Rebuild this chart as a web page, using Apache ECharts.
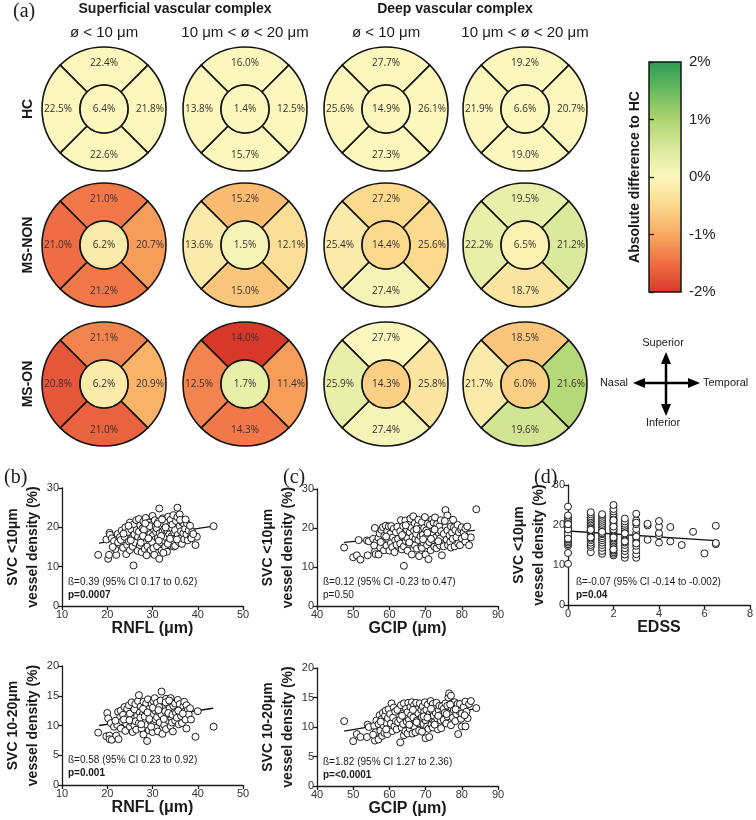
<!DOCTYPE html>
<html>
<head>
<meta charset="utf-8">
<title>Vessel density</title>
<script src="https://cdn.jsdelivr.net/npm/echarts@6/dist/echarts.min.js"></script>
<style>
    html, body { margin: 0; padding: 0; background: #fff; }
    #chart { width: 756px; height: 820px; }
</style>
</head>
<body>
<div id="chart"></div>
<script>
// (a) sector values, order: superior, temporal, inferior, nasal, central
var groups = ['HC', 'MS-NON', 'MS-ON'];
var complexes = ['Superficial vascular complex', 'Deep vascular complex'];
var sizeLabels = ['ø < 10 μm', '10 μm < ø < 20 μm', 'ø < 10 μm', '10 μm < ø < 20 μm'];
var svc10 = [[22.4, 21.8, 22.6, 22.5, 6.4], [21.0, 20.7, 21.2, 21.0, 6.2], [21.1, 20.9, 21.0, 20.8, 6.2]];
var svc1020 = [[16.0, 12.5, 15.7, 13.8, 1.4], [15.2, 12.1, 15.0, 13.6, 1.5], [14.0, 11.4, 14.3, 12.5, 1.7]];
var dvc10 = [[27.7, 26.1, 27.3, 25.6, 14.9], [27.2, 25.6, 27.4, 25.4, 14.4], [27.7, 25.8, 27.4, 25.9, 14.3]];
var dvc1020 = [[19.2, 20.7, 19.0, 21.9, 6.6], [19.5, 21.2, 18.7, 22.2, 6.5], [18.5, 21.6, 19.6, 21.7, 6.0]];
var scaleTicks = [-2, -1, 0, 1, 2];
var scaleColors = ['#d7382a', '#f06c44', '#f9a95f', '#fbd98d', '#fbf7bd', '#dbe99c', '#acd46f', '#68ba5f', '#2b9c53'];

// (b)-(d) scatter data
var rnflSvc10 = [
    [18, 13], [19.8, 16.9], [20.2, 12], [20.5, 18.6], [20.6, 18.1], [20.4, 13], [21, 17.2], [21.5, 16.5], [22, 13], [22.3, 18.3], [21.8, 14.5], [22.5, 15.8], [21.2, 15], [22.8, 17.5], [22.4, 16.2],
    [23, 16.8], [23.2, 19.2], [23.5, 14.8], [23.8, 17.6], [24, 20], [24.2, 13.2], [24.4, 15.5], [24.5, 18.8], [24.8, 16.4], [25, 21.2], [25, 14.2], [25.3, 19.5], [25.5, 17.3], [25.6, 15.1], [25.8, 10.3], [25.9, 20.8], [26, 18.2], [26.2, 16.1], [26.4, 21.8], [26.5, 19.3], [26.7, 14], [26.8, 17.6], [23.6, 18.4], [24.7, 20.4], [25.2, 16.7],
    [27, 22.1], [27, 18.9], [27.2, 15.5], [27.3, 20.5], [27.5, 17], [27.6, 13.7], [27.8, 19.7], [28, 21.5], [28, 16.3], [28.2, 18.2], [28.3, 14.5], [28.5, 22.4], [28.6, 20], [28.8, 17.5], [28.9, 15.2], [29, 19], [29, 13.3], [29.2, 21.2], [29.3, 16.7], [29.5, 18.3], [29.6, 14.2], [29.8, 20.6], [30, 17.8], [30, 22.9], [30.1, 15.8], [30.3, 19.5], [30.4, 13], [30.5, 21.8], [30.6, 16.9], [30.8, 18.8], [27.4, 16.1], [28.1, 19.4], [28.7, 12.9], [29.4, 20.3], [29.9, 16.2], [30.2, 14.7], [27.9, 17.8], [28.4, 21], [29.1, 17.2], [30.7, 20.1],
    [31, 19.7], [31, 15.2], [31.2, 17.3], [31.3, 21.4], [31.5, 24.8], [31.5, 12], [31.6, 18.5], [31.8, 16.2], [32, 20.5], [32, 14.1], [32.2, 18.9], [32.3, 22.3], [32.5, 16.8], [32.6, 19.6], [32.8, 15], [33, 21.2], [33, 17.5], [33.2, 13.8], [33.3, 19.1], [33.5, 22.7], [33.5, 16.3], [33.7, 18.2], [33.8, 20.4], [34, 15.4], [34, 21.9], [34.2, 17.7], [34.3, 19.8], [34.5, 16.7], [34.6, 23.1], [34.8, 18.6], [31.1, 20.9], [31.9, 17.8], [32.4, 13.5], [32.9, 20], [33.4, 15.8], [33.9, 17.1], [34.4, 20.7], [34.7, 15.1], [31.4, 16.6], [32.1, 22],
    [35, 19.3], [35, 15.3], [35.2, 21.6], [35.3, 17.4], [35.5, 25], [35.5, 22.6], [35.6, 18.1], [35.8, 16.3], [36, 20.3], [36, 23.3], [36.2, 17.2], [36.3, 19], [36.5, 15.8], [36.6, 21.2], [36.8, 18.5], [37, 17], [37, 20.8], [37.2, 19.6], [37.5, 18.2], [37.6, 21], [37.8, 16.7], [38, 19.2], [36.1, 21.9], [35.4, 16.9], [37.3, 22],
    [38.5, 17.6], [38.8, 18.8], [39.5, 15.5], [39.8, 17.6], [38.3, 20.4], [43.5, 20.3], [38.6, 17.2], [39, 18.3]
];
var gcipSvc10 = [
    [47.5, 15], [50, 12.5], [51, 13], [51.5, 16.9], [52, 11.9], [53.8, 16.8], [54, 13], [54.3, 16.6], [55.5, 17.2], [56, 20], [56, 14], [56.2, 13.3], [56.4, 16.4], [55.8, 15.5],
    [57, 13.2], [57, 17.5], [57.3, 18.6], [57.5, 15], [57.8, 19.5], [58, 16.5], [58.2, 20.2], [58.5, 14.3], [58.6, 18], [58.8, 16.6], [59, 20.6], [59.2, 15.5], [59.4, 19.2], [59.6, 17.2], [59.8, 20.4], [60, 14.2], [60.2, 18.5], [60.4, 16.1], [60.5, 20.5], [60.8, 15.1], [61, 17.6], [61.2, 19.8], [61.4, 13.8], [61.6, 16.8], [61.8, 18.9], [62, 15.7], [62.2, 20.3], [62.4, 17.2], [57.6, 16.4], [59.1, 17.8],
    [63, 16], [63, 19.2], [63.2, 22], [63.4, 14.5], [63.6, 17.8], [63.8, 20.5], [64, 10.3], [64, 15.3], [64.2, 18.6], [64.4, 21.9], [64.6, 16.6], [64.8, 19.6], [65, 14.2], [65, 17.4], [65.2, 20.9], [65.4, 15.9], [65.6, 18.9], [65.8, 22.4], [66, 16.4], [66, 20.1], [66.2, 13.2], [66.4, 17.7], [66.6, 23], [66.8, 19.3], [67, 15.6], [67, 21.2], [67.2, 17.2], [67.4, 18.5], [67.6, 14.7], [67.8, 20.6], [68, 16.9], [68, 22.1], [68.2, 12.8], [68.4, 19.8], [68.6, 17.9], [68.8, 15.2], [63.5, 18.2], [64.5, 20.7], [65.5, 16.3], [67.5, 19.7],
    [69, 21.5], [69, 14.9], [69.2, 18.2], [69.4, 16.3], [69.6, 20], [69.8, 22.8], [70, 13.2], [70, 17.5], [70.2, 19.4], [70.4, 15.6], [70.6, 21.1], [70.8, 12], [71, 18.6], [71, 16.4], [71.2, 20.8], [71.4, 14.3], [71.6, 19], [71.8, 22.2], [72, 16.9], [72, 18.3], [72.2, 21.4], [72.4, 15.2], [72.6, 22.7], [72.8, 17.6], [73, 19.9], [73, 14.8], [73.2, 21], [73.4, 16.1], [73.6, 18.7], [73.8, 20.4], [74, 15.5], [74, 17.3], [74.2, 22], [74.5, 13], [69.3, 17.1], [70.5, 18.8], [71.5, 17.2], [72.5, 19.6], [73.5, 16.6], [74.3, 19.2],
    [75, 18.5], [75, 15.3], [75.5, 24.6], [75.6, 20.3], [75.8, 17], [76, 23.2], [76, 19.4], [76.2, 15.6], [76.4, 21.6], [76.6, 18.1], [76.8, 16.4], [77, 20.4], [77, 15], [77.3, 18.8], [77.5, 17.2], [77.8, 20.1], [78, 15.3], [78.2, 19.5], [78.5, 17.6], [78.8, 20.8], [79, 16], [79.2, 18.9], [79.5, 15.6], [79.8, 19.6], [80, 17.3], [80, 20.2], [75.3, 21.8], [77.6, 22.1],
    [80.5, 18.8], [81, 16.5], [81, 19.9], [81.5, 20.4], [82, 15.6], [82.5, 17.6], [84, 24.8], [80.8, 17.9]
];
var edssSvc10 = [
    [0, 10.3], [0, 13], [0, 14.8], [0, 15.2], [0, 15.6], [0, 16], [0, 16.4], [0, 16.8], [0, 17.2], [0, 17.5], [0, 17.9], [0, 18.2], [0, 18.6], [0, 19], [0, 19.3], [0, 19.7], [0, 20], [0, 20.4], [0, 20.8], [0, 21.2], [0, 21.5], [0, 22], [0, 22.4], [0, 24.6], [0, 17.7], [0, 18.9], [0, 16.6], [0, 20.2],
    [1, 13.2], [1, 14.5], [1, 15], [1, 15.6], [1, 16.2], [1, 16.6], [1, 17], [1, 17.4], [1, 17.8], [1, 18.2], [1, 18.6], [1, 19], [1, 19.4], [1, 19.8], [1, 20.2], [1, 20.6], [1, 21], [1, 21.4], [1, 21.8], [1, 22.2], [1, 22.7], [1, 23.2], [1, 16.9], [1, 18.8],
    [1.5, 12.8], [1.5, 13.5], [1.5, 14.3], [1.5, 15], [1.5, 15.6], [1.5, 16.2], [1.5, 16.7], [1.5, 17.2], [1.5, 17.7], [1.5, 18.2], [1.5, 18.5], [1.5, 19], [1.5, 19.4], [1.5, 19.9], [1.5, 20.3], [1.5, 20.8], [1.5, 21.3], [1.5, 21.8], [1.5, 22.3], [1.5, 22.7], [1.5, 17.9], [1.5, 18.3],
    [2, 12.4], [2, 12.8], [2, 13.2], [2, 13.6], [2, 14], [2, 14.5], [2, 15], [2, 15.4], [2, 15.8], [2, 16.2], [2, 16.6], [2, 17], [2, 17.4], [2, 17.8], [2, 18.2], [2, 18.6], [2, 19], [2, 19.4], [2, 19.8], [2, 20.2], [2, 20.6], [2, 21], [2, 21.4], [2, 21.8], [2, 22.3], [2, 22.8], [2, 23.4], [2, 24], [2, 25], [2, 13.9], [2, 16.9], [2, 18.9], [2, 19.6], [2, 21.2],
    [2.5, 11.8], [2.5, 12.6], [2.5, 13.5], [2.5, 14.2], [2.5, 15], [2.5, 15.6], [2.5, 16.2], [2.5, 16.8], [2.5, 17.2], [2.5, 17.6], [2.5, 18], [2.5, 18.4], [2.5, 18.8], [2.5, 19.3], [2.5, 19.8], [2.5, 20.3], [2.5, 20.9], [2.5, 21.6], [2.5, 15.9], [2.5, 17.9],
    [3, 11.8], [3, 12.7], [3, 13.7], [3, 14.8], [3, 16], [3, 16.8], [3, 17.5], [3, 18], [3, 19], [3, 20.2], [3, 21.2], [3, 22.8], [3, 17.1], [3, 20.6], [3, 15.4],
    [3.5, 16.3], [3.5, 19.9], [3.5, 20.3], [4, 15.6], [4, 17.4], [4, 18], [4, 19.6], [4, 21], [4.5, 15.9], [4.5, 19.5],
    [5, 15], [5.5, 18.3], [6, 12.9], [6.5, 15.2], [6.5, 15.5], [6.5, 19.8]
];
var rnflSvc1020 = [
    [18, 8.8], [19.8, 8.2], [20, 12.1], [20.2, 11.2], [20.5, 8.3], [20.5, 7.7], [21, 7.6], [20.8, 10.4], [21.5, 9.8], [22, 8.3], [22.2, 10.1], [22.4, 12.3], [22.5, 7.7], [22.8, 11.3], [21.8, 10.8],
    [23, 9.5], [23, 12.5], [23.3, 10.7], [23.5, 11.8], [23.8, 13.1], [24, 9.1], [24.2, 10.3], [24.4, 12.8], [24.6, 11.4], [24.8, 13.4], [25, 9.8], [25, 12], [25.2, 10.6], [25.4, 13.9], [25.6, 8.9], [25.8, 11.1], [26, 12.7], [26, 10], [26.2, 13.6], [26.4, 9.3], [26.6, 11.6], [26.8, 14.1], [23.7, 11], [24.9, 10.9], [26.3, 10.7],
    [27, 15.1], [27, 10.4], [27.2, 12.2], [27.4, 13.2], [27.6, 9.5], [27.8, 11.8], [28, 14], [28, 8.5], [28.2, 10.9], [28.4, 12.6], [28.6, 13.7], [28.8, 7.4], [28.8, 10.1], [29, 11.5], [29, 14.4], [29.2, 9.2], [29.4, 12.9], [29.6, 10.7], [29.8, 13.6], [30, 8.9], [30, 11.9], [30.2, 14.1], [30.4, 10.3], [30.6, 12.5], [30.8, 9.6], [27.3, 11.3], [28.3, 11.5], [29.3, 11.1], [30.1, 13], [30.7, 11], [27.9, 12.8], [28.9, 12.2], [29.7, 9.8], [30.5, 14.6], [27.5, 10.2],
    [31, 11.4], [31, 13.8], [31.2, 9], [31.4, 12.3], [31.6, 10.5], [31.8, 14.2], [32, 15.7], [32, 11.8], [32.2, 8.6], [32.4, 13], [32.6, 10.1], [32.8, 12.4], [33, 14.5], [33, 9.4], [33.2, 11.6], [33.4, 13.5], [33.6, 10.8], [33.8, 12.9], [34, 14.6], [34, 9.9], [34.2, 11.2], [34.5, 9], [34.6, 13.3], [34.8, 12.2], [31.5, 13.1], [32.5, 11.1], [33.5, 12.1], [34.3, 10.5], [31.3, 12.6], [32.9, 13.9], [33.7, 14.2], [34.4, 11.8],
    [35, 10.8], [35, 13.7], [35.2, 12.1], [35.4, 11.3], [35.6, 14.3], [35.8, 10.2], [36, 12.8], [36, 13.6], [36.3, 11.6], [36.5, 10.4], [36.8, 13.2], [37, 12.3], [37, 14], [37.3, 11], [37.5, 9.5], [37.5, 13.4], [37.8, 12.6], [38, 11.9], [35.7, 12.5], [36.7, 12],
    [38.5, 11], [39.5, 8.1], [40, 12.4], [43.5, 9.8], [38.3, 12.9]
];
var gcipSvc1020 = [
    [47.5, 11], [50, 7.6], [51, 8.8], [52, 8.3], [53.8, 8.3], [54, 10.4], [54.3, 10], [55.8, 10.2], [56, 7.7], [56.2, 9.1], [56.4, 11.1], [55.5, 8.7],
    [57, 7.9], [57, 10.5], [57.3, 12], [57.5, 9.4], [57.8, 11.3], [58, 8.5], [58.2, 12.4], [58.4, 10.2], [58.6, 9], [58.8, 11.9], [59, 12.8], [59.2, 10.7], [59.4, 8.8], [59.6, 11.5], [59.8, 13], [60, 9.8], [60.2, 12.2], [60.4, 10.6], [60.6, 14], [60.8, 9.3], [61, 11.6], [61.2, 13.3], [61.4, 10.1], [61.6, 12.6], [61.8, 11], [62, 9.6], [62.2, 12.9], [62.4, 10.8], [57.6, 10.9], [59.1, 9.6],
    [63, 7.4], [63, 11.3], [63.2, 13.7], [63.4, 9.9], [63.6, 12.2], [63.8, 10.5], [64, 14], [64, 8.6], [64.2, 11.8], [64.4, 9.3], [64.6, 13.1], [64.8, 10.9], [65, 12.5], [65, 8.9], [65.2, 14.1], [65.4, 11.2], [65.6, 9.7], [65.8, 13.4], [66, 10.3], [66, 12], [66.2, 14.2], [66.4, 8.9], [66.6, 11.6], [66.8, 13.7], [67, 10], [67, 12.7], [67.2, 9.1], [67.4, 14.1], [67.6, 11.1], [67.8, 13], [68, 10.6], [68, 12.3], [68.2, 9.4], [68.4, 14], [68.6, 11.4], [68.8, 12.9], [63.5, 11.9], [65.5, 10.4], [66.5, 12.9], [67.5, 10.8],
    [69, 11.7], [69, 9.2], [69.2, 13.5], [69.4, 10.5], [69.6, 12.6], [69.8, 14.2], [70, 8.1], [70, 11.1], [70.2, 12.9], [70.4, 10.1], [70.6, 13.8], [70.8, 9.7], [71, 12.2], [71, 8.3], [71.2, 11.5], [71.4, 14.4], [71.6, 10.4], [71.8, 12.8], [72, 13.9], [72, 9.9], [72.2, 11.9], [72.4, 10.8], [72.6, 13.2], [72.8, 12.4], [73, 10.3], [73, 14.1], [73.2, 11.4], [73.4, 9.6], [73.6, 12.9], [73.8, 13.6], [74, 10.6], [74, 12], [74.2, 11.1], [74.5, 13.5], [69.5, 11.8], [70.5, 11.6], [71.5, 13.1], [72.5, 10.4], [73.5, 11.9], [74.3, 9.8],
    [75, 11.2], [75, 13.1], [75.3, 12.4], [75.5, 14], [75.7, 10.6], [76, 13.6], [76, 11.8], [76.3, 15], [76.5, 15.7], [76.7, 12.5], [77, 15.3], [77, 10.3], [77.2, 13.2], [77.5, 11.6], [77.8, 12.9], [78, 14.2], [78.2, 11], [78.5, 12.2], [78.8, 13.9], [79, 8.8], [79.2, 12.7], [79.5, 13.9], [79.8, 11.4], [80, 12.3], [80, 10.1], [75.8, 12.2], [76.8, 13.8], [78.3, 13],
    [80.5, 13.4], [81, 10.1], [81, 14.3], [81.3, 12.6], [81.6, 11.5], [82, 13.9], [82.5, 14.4], [84, 13.2], [80.8, 12]
];
// regression lines, end points
var fitRnflSvc10 = [[18.2, 16.0], [43.5, 20.3]];
var fitGcipSvc10 = [[47.5, 16.3], [83.6, 19.4]];
var fitEdssSvc10 = [[0, 18.5], [6.5, 16.1]];
var fitRnflSvc1020 = [[18.2, 10.0], [43.4, 12.9]];
var fitGcipSvc1020 = [[47.5, 9.3], [84, 13.1]];

var sans = '"Liberation Sans", Arial, sans-serif';
var serif = '"Liberation Serif", "DejaVu Serif", serif';

var chart = echarts.init(document.getElementById('chart'));

function sectorColor(diff) {
    var t = (diff - scaleTicks[0]) / (scaleTicks[4] - scaleTicks[0]);
    return echarts.color.lerp(Math.max(0, Math.min(1, t)), scaleColors);
}

var colCx = [104, 245, 386, 525];
var rowCy = [109, 245, 384];
var tables = [svc10, svc1020, dvc10, dvc1020];
var series = [];

tables.forEach(function (table, c) {
    var hc = table[0];
    table.forEach(function (vals, r) {
        var ring = [0, 1, 2, 3].map(function (i) {
            return { value: 1, pct: vals[i], itemStyle: { color: sectorColor(vals[i] - hc[i]) } };
        });
        var common = {
            type: 'pie', center: [colCx[c], rowCy[r]], startAngle: 135, clockwise: true,
            silent: true, avoidLabelOverlap: false, emphasis: { disabled: true },
            labelLine: { show: false },
            itemStyle: { borderColor: '#151515', borderWidth: 1.6 },
            label: {
                show: true, fontSize: 10, fontFamily: '"Open Sans", sans-serif', color: '#3b3030',
                formatter: function (p) { return p.data.pct.toFixed(1) + '%'; }
            }
        };
        series.push(echarts.util.merge({ radius: [24, 62], label: { position: 'inside' }, data: ring }, common));
        series.push(echarts.util.merge({
            radius: [0, 24], label: { position: 'center' },
            data: [{ value: 1, pct: vals[4], itemStyle: { color: sectorColor(vals[4] - hc[4]) } }]
        }, common));
    });
});

// scatter panels
var panels = [
    { data: rnflSvc10, fit: fitRnflSvc10 },
    { data: gcipSvc10, fit: fitGcipSvc10 },
    { data: edssSvc10, fit: fitEdssSvc10 },
    { data: rnflSvc1020, fit: fitRnflSvc1020 },
    { data: gcipSvc1020, fit: fitGcipSvc1020 }
];
panels.forEach(function (p, i) {
    series.push({
        type: 'line', xAxisIndex: i, yAxisIndex: i, data: p.fit, symbol: 'none', silent: true, z: 2,
        lineStyle: { color: '#111', width: 1.3 }
    });
    series.push({
        type: 'scatter', xAxisIndex: i, yAxisIndex: i, data: p.data, symbol: 'circle', symbolSize: 7, z: 3,
        itemStyle: { color: '#fff', borderColor: '#1a1a1a', borderWidth: 1, opacity: 1 }
    });
});

var grids = [
    { left: 62, top: 488, width: 181, height: 118 },
    { left: 317, top: 489, width: 181, height: 117 },
    { left: 568, top: 485, width: 184, height: 120 },
    { left: 62, top: 666, width: 181, height: 119 },
    { left: 317, top: 668, width: 181, height: 118 },
    { left: 649, top: 62, width: 32, height: 230 }
];

var axisLineStyle = { color: '#1a1a1a', width: 1.3 };
function xAxisOf(gi, min, max, interval, name) {
    return {
        type: 'value', gridIndex: gi, min: min, max: max, interval: interval,
        name: name, nameLocation: 'middle', nameGap: 12,
        nameTextStyle: { fontFamily: sans, fontWeight: 'bold', fontSize: 16, color: '#1a1a1a' },
        axisLine: { show: true, lineStyle: axisLineStyle },
        axisTick: { show: true, length: 4, lineStyle: axisLineStyle },
        axisLabel: { fontFamily: sans, fontSize: 11, color: '#333', margin: 3 },
        splitLine: { show: false }
    };
}
function yAxisOf(gi, max, interval, name, gap) {
    return {
        type: 'value', gridIndex: gi, min: 0, max: max, interval: interval,
        name: name, nameLocation: 'middle', nameGap: gap, nameRotate: 90,
        nameTextStyle: { fontFamily: sans, fontWeight: 'bold', fontSize: 14, lineHeight: 20, color: '#1a1a1a' },
        axisLine: { show: true, lineStyle: axisLineStyle },
        axisTick: { show: true, length: 4, lineStyle: axisLineStyle },
        axisLabel: { fontFamily: sans, fontSize: 11, color: '#333', margin: 3 },
        splitLine: { show: false }
    };
}

var xAxes = [
    xAxisOf(0, 10, 50, 10, 'RNFL (μm)'),
    xAxisOf(1, 40, 90, 10, 'GCIP (μm)'),
    xAxisOf(2, 0, 8, 2, 'EDSS'),
    xAxisOf(3, 10, 50, 10, 'RNFL (μm)'),
    xAxisOf(4, 40, 90, 10, 'GCIP (μm)'),
    { type: 'value', gridIndex: 5, show: false, min: 0, max: 1 }
];
var yAxes = [
    yAxisOf(0, 30, 10, 'SVC <10μm\nvessel density (%)', 14),
    yAxisOf(1, 30, 10, 'SVC <10μm\nvessel density (%)', 16),
    yAxisOf(2, 30, 10, 'SVC <10μm\nvessel density (%)', 19),
    yAxisOf(3, 20, 5, 'SVC 10-20μm\nvessel density (%)', 14),
    yAxisOf(4, 20, 5, 'SVC 10-20μm\nvessel density (%)', 16),
    {
        type: 'value', gridIndex: 5, position: 'right', min: scaleTicks[0], max: scaleTicks[4], interval: 1,
        axisLine: { show: false },
        axisTick: { show: true, length: 5, lineStyle: { color: '#1a1a1a', width: 1.3 } },
        axisLabel: { fontFamily: sans, fontSize: 15, color: '#222', margin: 8, formatter: '{value}%' },
        splitLine: { show: false }
    }
];

function txt(x, y, text, font, align, extra) {
    var el = {
        type: 'text', x: x, y: y, silent: true,
        style: { text: text, font: font, fill: '#1a1a1a', align: align || 'center', verticalAlign: 'middle' }
    };
    return echarts.util.merge(el, extra || {});
}

var gradientStops = scaleColors.map(function (c, i) {
    return { offset: 1 - i / (scaleColors.length - 1), color: c };
}).reverse();

var graphic = [
    txt(13, 12, '(a)', '20px ' + serif, 'left'),
    txt(175, 9, complexes[0], 'bold 14px ' + sans),
    txt(455, 9, complexes[1], 'bold 14px ' + sans),
    {
        type: 'rect', silent: true, z: -1,
        shape: { x: 649, y: 62, width: 32, height: 230 },
        style: { fill: new echarts.graphic.LinearGradient(0, 0, 0, 1, gradientStops), stroke: '#151515', lineWidth: 1.5 }
    },
    txt(635, 177, 'Absolute difference to HC', 'bold 14px ' + sans, 'center', { rotation: Math.PI / 2 }),
    // orientation cross
    { type: 'line', silent: true, shape: { x1: 666, y1: 362, x2: 666, y2: 406 }, style: { stroke: '#000', lineWidth: 2.5 } },
    { type: 'line', silent: true, shape: { x1: 643, y1: 383, x2: 690, y2: 383 }, style: { stroke: '#000', lineWidth: 2.5 } },
    { type: 'polygon', silent: true, shape: { points: [[666, 352], [661, 364], [671, 364]] }, style: { fill: '#000' } },
    { type: 'polygon', silent: true, shape: { points: [[666, 416], [661, 404], [671, 404]] }, style: { fill: '#000' } },
    { type: 'polygon', silent: true, shape: { points: [[633, 383], [645, 378], [645, 388]] }, style: { fill: '#000' } },
    { type: 'polygon', silent: true, shape: { points: [[700, 383], [688, 378], [688, 388]] }, style: { fill: '#000' } },
    txt(663, 343, 'Superior', '11px ' + sans),
    txt(663, 423, 'Inferior', '11px ' + sans),
    txt(628, 383, 'Nasal', '11px ' + sans, 'right'),
    txt(703, 383, 'Temporal', '11px ' + sans, 'left'),
    // panel letters and statistics
    txt(4, 478, '(b)', '20px ' + serif, 'left'),
    txt(283, 478, '(c)', '20px ' + serif, 'left'),
    txt(534, 478, '(d)', '20px ' + serif, 'left'),
    txt(68, 582, 'ß=0.39 (95% CI 0.17 to 0.62)', '10px ' + sans, 'left', { style: { fill: '#444' } }),
    txt(68, 595, 'p=0.0007', 'bold 10px ' + sans, 'left'),
    txt(323, 582, 'ß=0.12 (95% CI -0.23 to 0.47)', '10px ' + sans, 'left', { style: { fill: '#444' } }),
    txt(323, 595, 'p=0.50', '10px ' + sans, 'left', { style: { fill: '#444' } }),
    txt(576, 582, 'ß=-0.07 (95% CI -0.14 to -0.002)', '10px ' + sans, 'left', { style: { fill: '#444' } }),
    txt(576, 595, 'p=0.04', 'bold 10px ' + sans, 'left'),
    txt(68, 760, 'ß=0.58 (95% CI 0.23 to 0.92)', '10px ' + sans, 'left', { style: { fill: '#444' } }),
    txt(68, 773, 'p=0.001', 'bold 10px ' + sans, 'left'),
    txt(323, 762, 'ß=1.82 (95% CI 1.27 to 2.36)', '10px ' + sans, 'left', { style: { fill: '#444' } }),
    txt(323, 775, 'p=<0.0001', 'bold 10px ' + sans, 'left')
];
sizeLabels.forEach(function (s, c) {
    graphic.push(txt(colCx[c], 33, s, '15px ' + sans));
});
groups.forEach(function (g, r) {
    graphic.push(txt(28, rowCy[r], g, 'bold 14px ' + sans, 'center', { rotation: Math.PI / 2 }));
});

chart.setOption({
    animation: false,
    backgroundColor: '#fff',
    grid: grids,
    xAxis: xAxes,
    yAxis: yAxes,
    series: series,
    graphic: graphic
});
</script>
</body>
</html>
